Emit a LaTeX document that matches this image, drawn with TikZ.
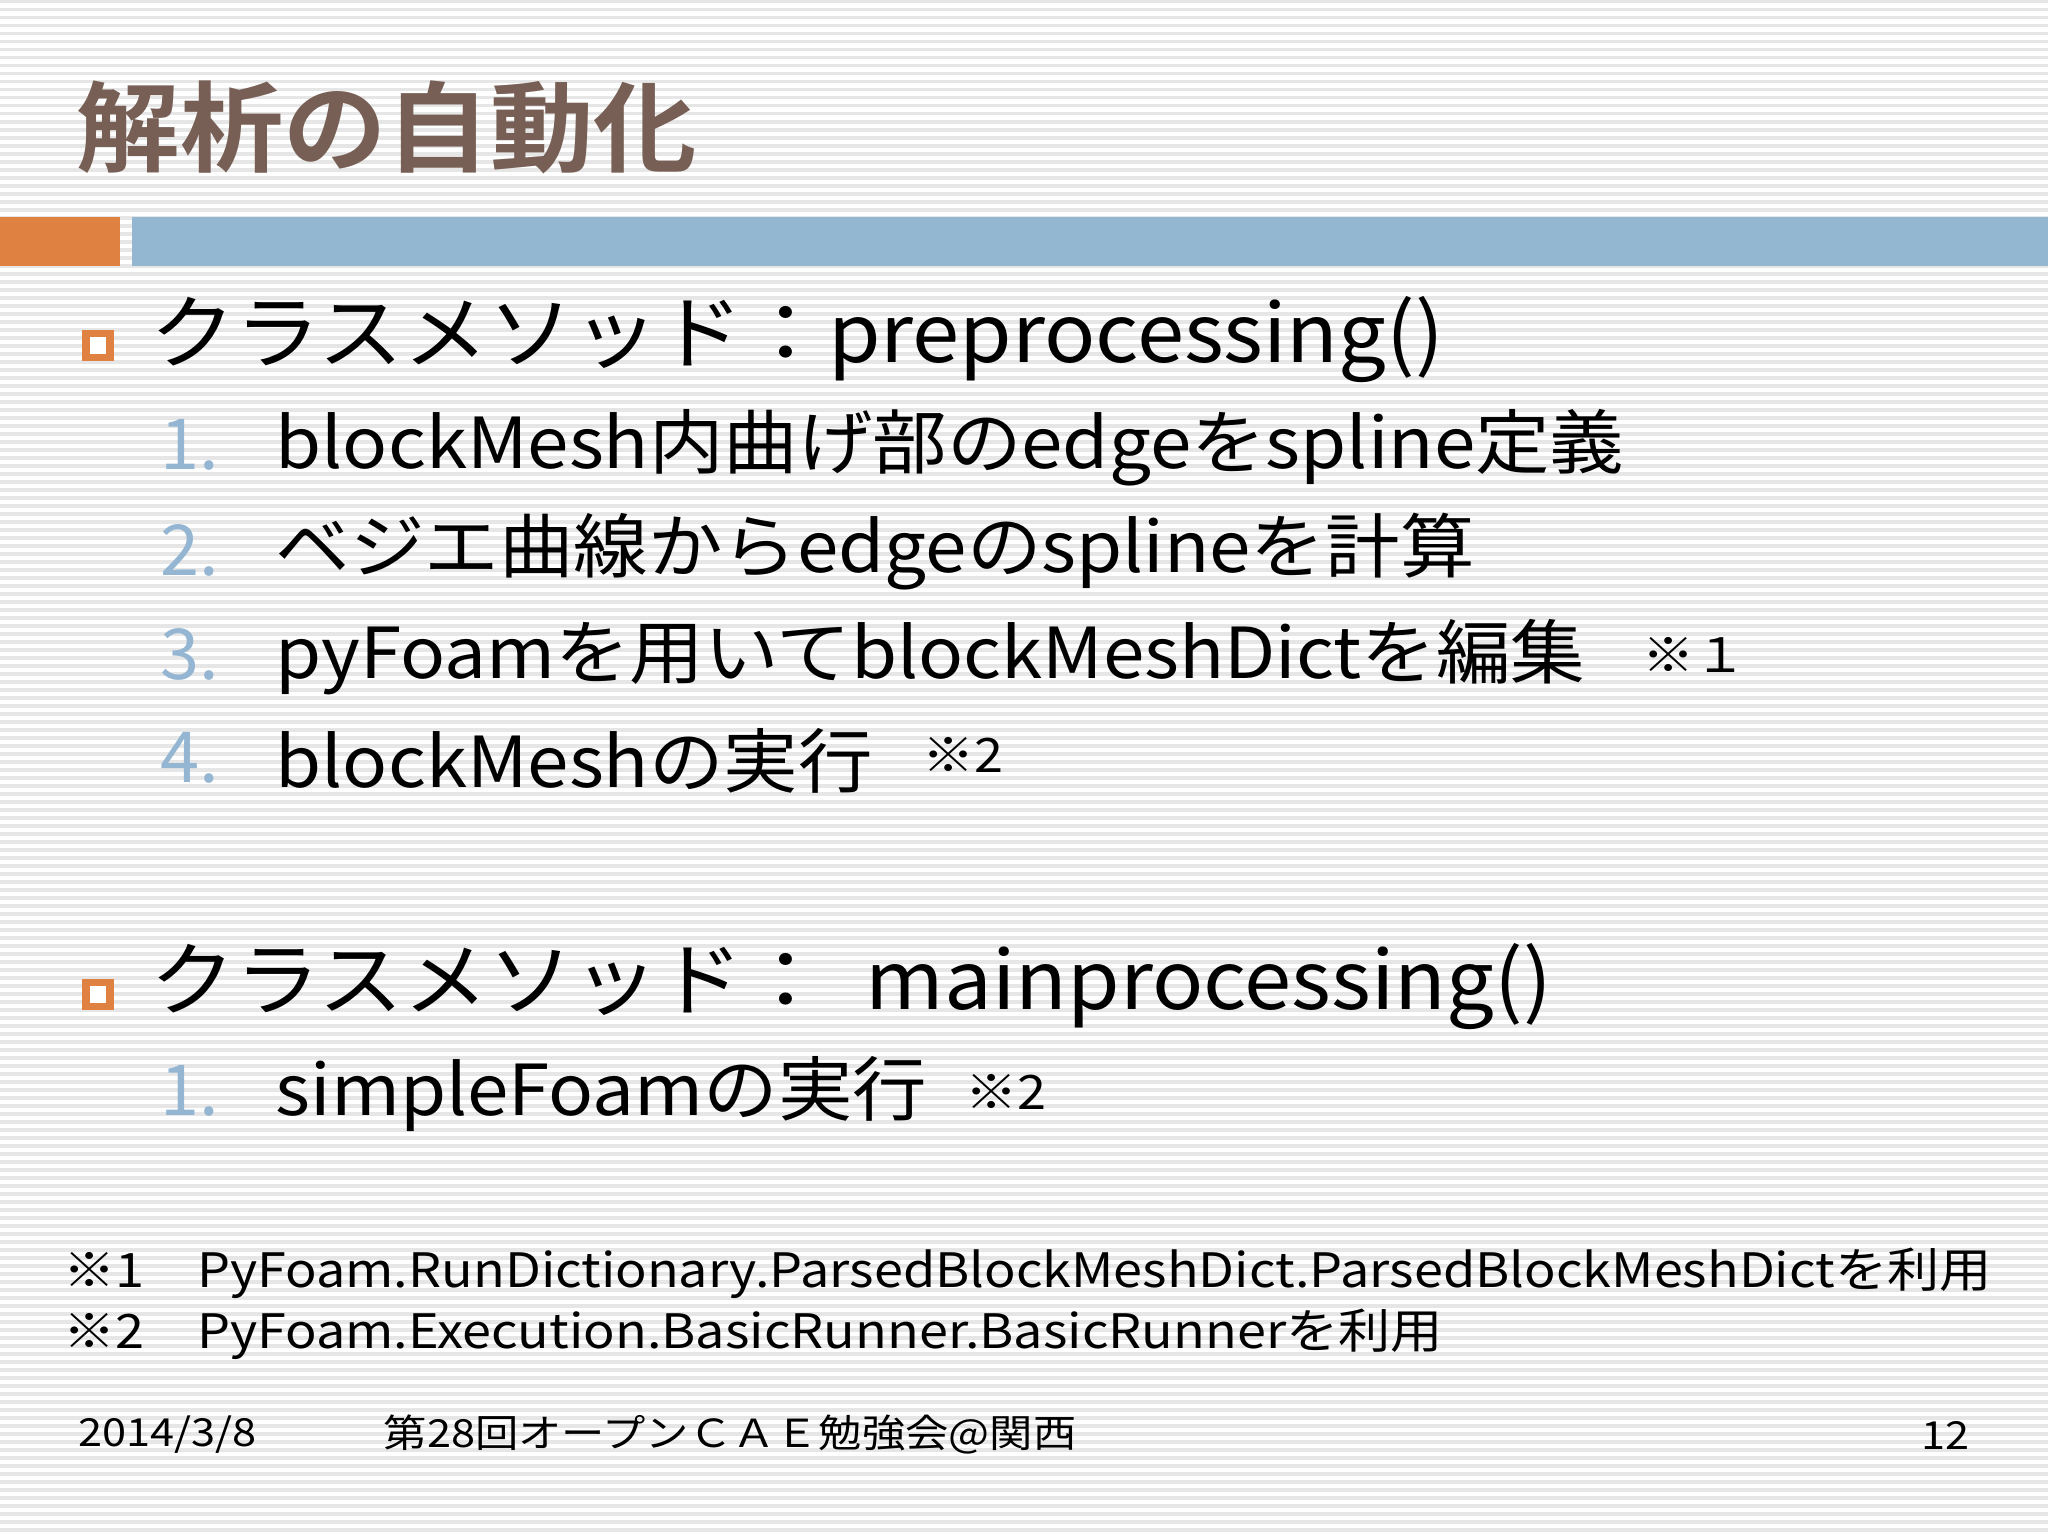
\documentclass[tikz,border=0pt]{standalone}
\usepackage{fontspec}
\setmainfont{Noto Sans CJK JP}
\newfontfamily\jpbold{Noto Sans CJK JP Bold}
\definecolor{titlebrown}{HTML}{775F55}
\definecolor{barorange}{HTML}{DF8241}
\definecolor{barblue}{HTML}{93B6D1}
\definecolor{numblue}{HTML}{94B6D2}
\definecolor{stripe}{HTML}{E6E6E6}
\begin{document}
\begin{tikzpicture}[x=1cm,y=-1cm,
  bigtxt/.style={anchor=west,inner sep=0pt,xscale=1.05,font=\fontsize{23}{27}\selectfont},
  itemtxt/.style={anchor=west,inner sep=0pt,xscale=1.06,font=\fontsize{20}{24}\selectfont},
  numtxt/.style={anchor=west,inner sep=0pt,text=numblue,font=\fontsize{20}{24}\selectfont},
  notetxt/.style={anchor=west,inner sep=0pt,xscale=1.1,font=\fontsize{13.5}{16}\selectfont},
  foot/.style={anchor=west,inner sep=0pt,xscale=1.12,font=\fontsize{11}{13}\selectfont},
  bulletbox/.style={draw=barorange,line width=0.07cm,fill=white,minimum size=0.24cm,inner sep=0pt}]
\useasboundingbox (0,0) rectangle (20.48,15.36);
\fill[white] (0,0) rectangle (20.48,15.36);
\foreach \i in {0,...,191} {\fill[stripe] (0,\i*0.08) rectangle (20.48,\i*0.08+0.035);}
\node[anchor=west,inner sep=0pt,text=titlebrown,xscale=1.05,font=\jpbold\fontsize{28}{32}\selectfont] (title) at (0.76,1.27) {解析の自動化};
\fill[barorange] (0,2.17) rectangle (1.20,2.66);
\fill[barblue] (1.32,2.17) rectangle (20.48,2.66);
\node[bulletbox] (b1) at (0.98,3.46) {};
\node[bigtxt] (t1) at (1.50,3.40) {クラスメソッド：preprocessing()};
\node[numtxt] (n1) at (1.60,4.45) {1.};
\node[itemtxt] (i1) at (2.75,4.48) {blockMesh内曲げ部のedgeをspline定義};
\node[numtxt] (n2) at (1.60,5.50) {2.};
\node[itemtxt] (i2) at (2.75,5.52) {ベジエ曲線からedgeのsplineを計算};
\node[numtxt] (n3) at (1.60,6.54) {3.};
\node[itemtxt] (i3) at (2.75,6.57) {pyFoamを用いてblockMeshDictを編集};
\node[notetxt] (m3) at (16.42,6.55) {※１};
\node[numtxt] (n4) at (1.60,7.58) {4.};
\node[itemtxt] (i4) at (2.75,7.61) {blockMeshの実行};
\node[notetxt] (m4) at (9.22,7.55) {※2};
\node[bulletbox] (b2) at (0.98,9.94) {};
\node[bigtxt] (t2) at (1.50,9.87) {クラスメソッド：\ \ mainprocessing()};
\node[numtxt] (n5) at (1.60,10.91) {1.};
\node[itemtxt] (i5) at (2.75,10.94) {simpleFoamの実行};
\node[notetxt] (m5) at (9.65,10.92) {※2};
\node[notetxt] (f1) at (0.63,12.73) {※1\quad PyFoam.RunDictionary.ParsedBlockMeshDict.ParsedBlockMeshDictを利用};
\node[notetxt] (f2) at (0.63,13.34) {※2\quad PyFoam.Execution.BasicRunner.BasicRunnerを利用};
\node[foot] (d) at (0.78,14.35) {2014/3/8};
\node[foot] (c) at (3.83,14.35) {第28回オープンＣＡＥ勉強会@関西};
\node[foot,anchor=east] (p) at (19.70,14.35) {12};
\end{tikzpicture}
\end{document}
